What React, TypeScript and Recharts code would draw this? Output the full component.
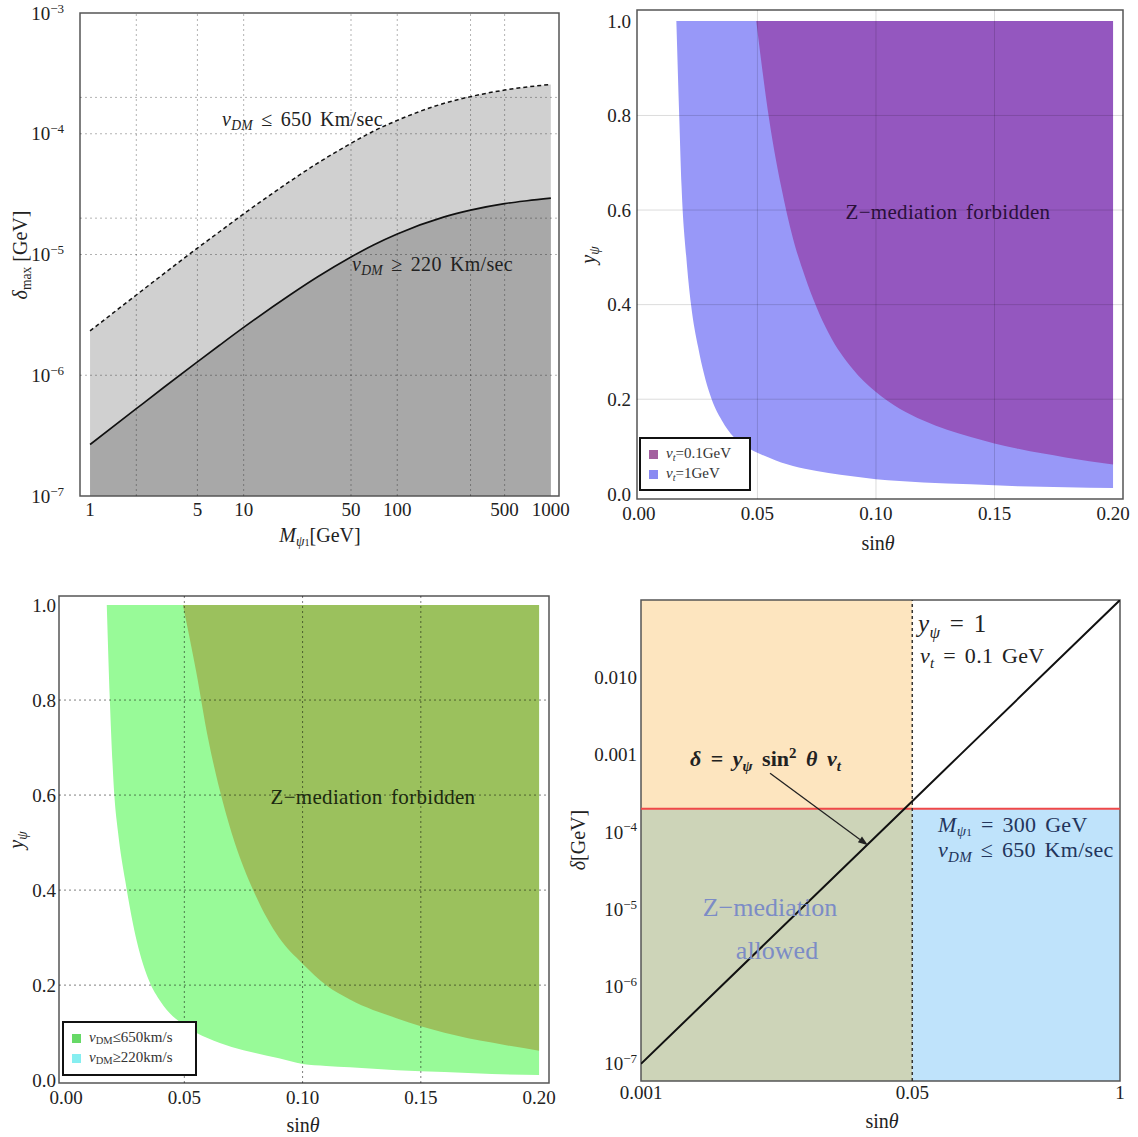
import React from "react";
import { ComposedChart, Area, Line, XAxis, YAxis, ReferenceLine, ReferenceArea } from "recharts";

const FONT = '"Liberation Serif", "Times New Roman", serif';

// ---- top-left: delta_max vs M_psi1 ----
const massGeV = [1, 2, 3, 5, 7, 10, 20, 30, 50, 70, 100, 200, 300, 500, 700, 1000];
const deltaMax650 = [2.33e-6, 4.62e-6, 6.88e-6, 1.13e-5, 1.55e-5, 2.17e-5, 4.03e-5, 5.66e-5, 8.33e-5, 1.05e-4, 1.29e-4, 1.78e-4, 2.03e-4, 2.3e-4, 2.44e-4, 2.56e-4];
const deltaMax220 = [2.67e-7, 5.29e-7, 7.88e-7, 1.29e-6, 1.78e-6, 2.49e-6, 4.62e-6, 6.48e-6, 9.54e-6, 1.2e-5, 1.48e-5, 2.04e-5, 2.33e-5, 2.64e-5, 2.79e-5, 2.93e-5];
const massTicks = [1, 5, 10, 50, 100, 500, 1000];
const deltaTicksA = [1e-7, 1e-6, 1e-5, 1e-4, 1e-3];
const massGrid = [2, 5, 10, 50, 100, 300, 500];
const deltaGridA = [1e-6, 1e-5, 2e-5, 1e-4, 2e-4];

// ---- top-right: y_psi vs sin(theta), v_t = 0.1 / 1 GeV ----
const sinThetaB = [0.0158, 0.017, 0.018, 0.02, 0.022, 0.025, 0.03, 0.035, 0.04, 0.045, 0.0495, 0.055, 0.06, 0.065, 0.07, 0.08, 0.09, 0.1, 0.11, 0.12, 0.14, 0.16, 0.18, 0.2];
const yLowVt1 = [1.0, 0.8, 0.65, 0.5, 0.4, 0.31, 0.21, 0.155, 0.12, 0.1, 0.088, 0.076, 0.066, 0.059, 0.053, 0.044, 0.037, 0.031, 0.027, 0.024, 0.02, 0.016, 0.014, 0.012];
const yLowVt01 = [null, null, null, null, null, null, null, null, null, null, 1.0, 0.79, 0.65, 0.54, 0.46, 0.34, 0.265, 0.215, 0.18, 0.155, 0.12, 0.095, 0.077, 0.062];

// ---- bottom-left: y_psi vs sin(theta), v_DM bounds ----
const sinThetaC = [0.0172, 0.0185, 0.0204, 0.022, 0.025, 0.03, 0.035, 0.04, 0.045, 0.0494, 0.055, 0.06, 0.065, 0.07, 0.08, 0.09, 0.1, 0.11, 0.12, 0.14, 0.16, 0.18, 0.2];
const yLow650 = [1.0, 0.8, 0.6, 0.52, 0.42, 0.29, 0.21, 0.165, 0.135, 0.118, 0.1, 0.088, 0.078, 0.07, 0.057, 0.046, 0.034, 0.03, 0.027, 0.021, 0.017, 0.013, 0.011];
const yLow220 = [null, null, null, null, null, null, null, null, null, 1.0, 0.86, 0.72, 0.61, 0.52, 0.39, 0.3, 0.245, 0.2, 0.17, 0.13, 0.1, 0.079, 0.062];

const linTicksX = [0, 0.05, 0.1, 0.15, 0.2];
const linTicksY = [0, 0.2, 0.4, 0.6, 0.8, 1.0];
const linGridX = [0.05, 0.1, 0.15];
const linGridY = [0.2, 0.4, 0.6, 0.8];

// ---- bottom-right: delta vs sin(theta) ----
const sinThetaD = [0.001, 0.01, 0.05, 0.1, 1];
const deltaLine = [1e-7, 1e-5, 2.5e-4, 1e-3, 0.1];
const deltaTicksD = [1e-7, 1e-6, 1e-5, 1e-4, 1e-3, 1e-2];
const sinTicksD = [0.001, 0.05, 1];
const deltaCut = 2e-4;
const sinCut = 0.05;

const tableA = massGeV.map((m, i) => ({ m, hi: deltaMax650[i], lo: deltaMax220[i] }));
const tableB = sinThetaB.map((s, i) => ({
  s,
  blue: yLowVt1[i] == null ? null : [yLowVt1[i], 1],
  purple: yLowVt01[i] == null ? null : [yLowVt01[i], 1],
}));
const tableC = sinThetaC.map((s, i) => ({
  s,
  light: yLow650[i] == null ? null : [yLow650[i], 1],
  dark: yLow220[i] == null ? null : [yLow220[i], 1],
}));
const tableD = sinThetaD.map((s, i) => ({ s, d: deltaLine[i] }));

const tickStyle = { fontSize: 19, fontFamily: FONT, fill: "#222" };

const PowTick = (props: any) => {
  const { x, y, payload } = props;
  const v = payload.value;
  if (v >= 1e-3 && v < 0.1 && props.decimal) {
    return (
      <text x={x} y={y} dy="0.35em" textAnchor="end" fontFamily={FONT} fontSize={19} fill="#222">
        {v >= 0.005 ? "0.010" : "0.001"}
      </text>
    );
  }
  const e = Math.round(Math.log10(v));
  return (
    <text x={x} y={y} dy="0.35em" textAnchor="end" fontFamily={FONT} fontSize={19} fill="#222">
      10<tspan dy="-0.55em" fontSize={13}>{"\u2212" + Math.abs(e)}</tspan>
    </text>
  );
};

const ArrowShape = (p: any) => {
  const { x1, y1, x2, y2 } = p;
  const a = Math.atan2(y2 - y1, x2 - x1);
  const L = 10;
  const W = 3.5;
  const bx = x2 - L * Math.cos(a);
  const by = y2 - L * Math.sin(a);
  const pts = `${x2},${y2} ${bx - W * Math.sin(a)},${by + W * Math.cos(a)} ${bx + W * Math.sin(a)},${by - W * Math.cos(a)}`;
  return (
    <g>
      <line x1={x1} y1={y1} x2={bx} y2={by} stroke="#222" strokeWidth={1.3} />
      <polygon points={pts} fill="#222" />
    </g>
  );
};

function T({ x, y, size = 19, color = "#222", anchor = "middle", rotate = false, style = {}, children }: any) {
  const tx = anchor === "middle" ? "-50%" : "0";
  return (
    <div
      style={{
        position: "absolute",
        left: x,
        top: y,
        transform: `translate(${tx}, -50%)${rotate ? " rotate(-90deg)" : ""}`,
        fontSize: size,
        color,
        whiteSpace: "nowrap",
        lineHeight: 1,
        fontFamily: FONT,
        ...style,
      }}
    >
      {children}
    </div>
  );
}

const sub = { fontSize: "0.68em", verticalAlign: "-0.3em" };
const sup = { fontSize: "0.68em", verticalAlign: "0.55em" };
const wide = { wordSpacing: "3px", letterSpacing: "0.3px" };

function Place({ left, top, children }: any) {
  return <div style={{ position: "absolute", left, top }}>{children}</div>;
}

function LegendBox({ x, y, w, h, items }: any) {
  return (
    <div
      style={{
        position: "absolute",
        left: x,
        top: y,
        width: w,
        height: h,
        border: "2px solid #111",
        background: "#fff",
        boxSizing: "border-box",
        fontFamily: FONT,
        fontSize: 15,
        color: "#333",
        padding: "5px 0 0 8px",
      }}
    >
      {items.map((it: any, i: number) => (
        <div key={i} style={{ display: "flex", alignItems: "center", height: 20 }}>
          <span style={{ width: 9, height: 9, background: it.color, display: "inline-block", marginRight: 8 }} />
          <span>{it.label}</span>
        </div>
      ))}
    </div>
  );
}

export default function App() {
  const mr = 16;
  // panel boxes (plot areas) in page pixels
  const A = { l: 80, t: 13, w: 479, h: 483, yw: 75, xh: 34, mt: 20 };
  const B = { l: 637, t: 10, w: 486, h: 489, yw: 60, xh: 34, mt: 10 };
  const C = { l: 59, t: 596, w: 490, h: 487, yw: 50, xh: 34, mt: 12 };
  const D = { l: 641, t: 600, w: 479, h: 481, yw: 62, xh: 34, mt: 12 };
  const dims = (p: any) => ({ width: p.yw + p.w + mr, height: p.mt + p.h + p.xh, margin: { top: p.mt, right: mr, left: 0, bottom: 0 } });

  return (
    <div style={{ position: "absolute", left: 0, top: 0, width: 1138, height: 1137, background: "#fff", fontFamily: FONT, overflow: "hidden" }}>
      {/* Panel A */}
      <Place left={A.l - A.yw} top={A.t - A.mt}>
        <ComposedChart {...dims(A)} data={tableA}>
          <XAxis dataKey="m" type="number" scale="log" domain={[0.86, 1130]} allowDataOverflow ticks={massTicks}
            tick={tickStyle} tickLine={false} axisLine={false} tickSize={0} tickMargin={7} height={A.xh} />
          <YAxis type="number" scale="log" domain={[1e-7, 1e-3]} allowDataOverflow ticks={deltaTicksA}
            tick={<PowTick />} tickLine={false} axisLine={false} tickSize={0} tickMargin={16} width={A.yw} />
          <Area dataKey="hi" type="monotone" baseValue={1e-7} fill="#d0d0d0" fillOpacity={1} stroke="none" isAnimationActive={false} />
          <Area dataKey="lo" type="monotone" baseValue={1e-7} fill="#a8a8a8" fillOpacity={1} stroke="none" isAnimationActive={false} />
          {massGrid.map((v) => (
            <ReferenceLine key={"vx" + v} x={v} stroke="rgba(0,0,0,0.3)" strokeDasharray="2 3" />
          ))}
          {deltaGridA.map((v) => (
            <ReferenceLine key={"hy" + v} y={v} stroke="rgba(0,0,0,0.3)" strokeDasharray="2 3" />
          ))}
          <Line dataKey="hi" type="monotone" stroke="#111" strokeWidth={1.5} strokeDasharray="4 3" dot={false} isAnimationActive={false} />
          <Line dataKey="lo" type="monotone" stroke="#111" strokeWidth={1.6} dot={false} isAnimationActive={false} />
          <ReferenceArea x1={0.86} x2={1130} y1={1e-7} y2={1e-3} fill="none" stroke="#555" strokeWidth={1.5} ifOverflow="visible" />
        </ComposedChart>
      </Place>
      <T x={22} y={255} rotate size={20}><i>δ</i><span style={sub}>max</span> [GeV]</T>
      <T x={320} y={537} size={20}><i>M</i><span style={sub}><i>ψ</i><span style={{ fontSize: "0.75em" }}>1</span></span>[GeV]</T>
      <T x={222} y={121} anchor="start" size={20} style={wide}><i>v</i><span style={sub}><i>DM</i></span> ≤ 650 Km/sec</T>
      <T x={352} y={266} anchor="start" size={20} style={wide}><i>v</i><span style={sub}><i>DM</i></span> ≥ 220 Km/sec</T>

      {/* Panel B */}
      <Place left={B.l - B.yw} top={B.t - B.mt}>
        <ComposedChart {...dims(B)} data={tableB}>
          <XAxis dataKey="s" type="number" domain={[-0.0008, 0.2042]} allowDataOverflow ticks={linTicksX}
            tickFormatter={(v: number) => v.toFixed(2)} tick={tickStyle} tickLine={false} axisLine={false} tickSize={0} tickMargin={8} height={B.xh} />
          <YAxis type="number" domain={[-0.011, 1.023]} allowDataOverflow ticks={linTicksY}
            tickFormatter={(v: number) => v.toFixed(1)} tick={tickStyle} tickLine={false} axisLine={false} tickSize={0} tickMargin={6} width={B.yw} />
          <Area dataKey="blue" type="monotone" fill="#9898f8" fillOpacity={1} stroke="none" isAnimationActive={false} />
          <Area dataKey="purple" type="monotone" fill="#9457bf" fillOpacity={1} stroke="none" isAnimationActive={false} />
          {linGridX.map((v) => (
            <ReferenceLine key={"bx" + v} x={v} stroke="rgba(0,0,0,0.14)" />
          ))}
          {linGridY.map((v) => (
            <ReferenceLine key={"by" + v} y={v} stroke="rgba(0,0,0,0.14)" />
          ))}
          <ReferenceArea x1={-0.0008} x2={0.2042} y1={-0.011} y2={1.023} fill="none" stroke="#555" strokeWidth={1.5} ifOverflow="visible" />
        </ComposedChart>
      </Place>
      <T x={590} y={255} rotate size={20}><i>y</i><span style={sub}><i>ψ</i></span></T>
      <T x={878} y={543} size={20}>sin<i>θ</i></T>
      <T x={948} y={212} size={21} color="#2a0f3a" style={wide}>Z−mediation forbidden</T>
      <LegendBox x={639} y={437} w={112} h={54}
        items={[
          { color: "#a3609f", label: <span><i>v</i><span style={sub}><i>t</i></span>=0.1GeV</span> },
          { color: "#8a8af2", label: <span><i>v</i><span style={sub}><i>t</i></span>=1GeV</span> },
        ]} />

      {/* Panel C */}
      <Place left={C.l - C.yw} top={C.t - C.mt}>
        <ComposedChart {...dims(C)} data={tableC}>
          <XAxis dataKey="s" type="number" domain={[-0.003, 0.2042]} allowDataOverflow ticks={linTicksX}
            tickFormatter={(v: number) => v.toFixed(2)} tick={tickStyle} tickLine={false} axisLine={false} tickSize={0} tickMargin={8} height={C.xh} />
          <YAxis type="number" domain={[-0.006, 1.019]} allowDataOverflow ticks={linTicksY}
            tickFormatter={(v: number) => v.toFixed(1)} tick={tickStyle} tickLine={false} axisLine={false} tickSize={0} tickMargin={3} width={C.yw} />
          <Area dataKey="light" type="monotone" fill="#98fa98" fillOpacity={1} stroke="none" isAnimationActive={false} />
          <Area dataKey="dark" type="monotone" fill="#9bc15d" fillOpacity={1} stroke="none" isAnimationActive={false} />
          {linGridX.map((v) => (
            <ReferenceLine key={"cx" + v} x={v} stroke="rgba(0,0,0,0.5)" strokeDasharray="2 3" />
          ))}
          {linGridY.map((v) => (
            <ReferenceLine key={"cy" + v} y={v} stroke="rgba(0,0,0,0.5)" strokeDasharray="2 3" />
          ))}
          <ReferenceArea x1={-0.003} x2={0.2042} y1={-0.006} y2={1.019} fill="none" stroke="#555" strokeWidth={1.5} ifOverflow="visible" />
        </ComposedChart>
      </Place>
      <T x={18} y={840} rotate size={20}><i>y</i><span style={sub}><i>ψ</i></span></T>
      <T x={303} y={1125} size={20}>sin<i>θ</i></T>
      <T x={373} y={797} size={21} color="#1b2a10" style={wide}>Z−mediation forbidden</T>
      <LegendBox x={62} y={1021} w={135} h={55}
        items={[
          { color: "#66d966", label: <span><i>v</i><span style={{ fontSize: "0.7em", verticalAlign: "-0.2em" }}>DM</span>≤650km/s</span> },
          { color: "#86eef0", label: <span><i>v</i><span style={{ fontSize: "0.7em", verticalAlign: "-0.2em" }}>DM</span>≥220km/s</span> },
        ]} />

      {/* Panel D */}
      <Place left={D.l - D.yw} top={D.t - D.mt}>
        <ComposedChart {...dims(D)} data={tableD}>
          <XAxis dataKey="s" type="number" scale="log" domain={[0.001, 1]} allowDataOverflow ticks={sinTicksD}
            tickFormatter={(v: number) => String(v)} tick={tickStyle} tickLine={false} axisLine={false} tickSize={0} tickMargin={5} height={D.xh} />
          <YAxis type="number" scale="log" domain={[6e-8, 0.1]} allowDataOverflow ticks={deltaTicksD}
            tick={<PowTick decimal />} tickLine={false} axisLine={false} tickSize={0} tickMargin={4} width={D.yw} />
          <ReferenceArea x1={0.001} x2={sinCut} y1={deltaCut} y2={0.1} fill="#fde5bf" fillOpacity={1} stroke="none" />
          <ReferenceArea x1={0.001} x2={sinCut} y1={6e-8} y2={deltaCut} fill="#cdd4b8" fillOpacity={1} stroke="none" />
          <ReferenceArea x1={sinCut} x2={1} y1={6e-8} y2={deltaCut} fill="#bfe3fb" fillOpacity={1} stroke="none" />
          <ReferenceLine y={deltaCut} stroke="#f04848" strokeWidth={2} />
          <ReferenceLine x={sinCut} stroke="#333" strokeWidth={1.5} strokeDasharray="3 3" />
          <Line dataKey="d" type="linear" stroke="#111" strokeWidth={2} dot={false} isAnimationActive={false} />
          <ReferenceLine segment={[{ x: 0.00643, y: 5.75e-4 }, { x: 0.0264, y: 6.7e-5 }]} shape={ArrowShape} />
          <ReferenceArea x1={0.001} x2={1} y1={6e-8} y2={0.1} fill="none" stroke="#555" strokeWidth={1.5} ifOverflow="visible" />
        </ComposedChart>
      </Place>
      <T x={578} y={840} rotate size={20}><i>δ</i>[GeV]</T>
      <T x={882} y={1121} size={20}>sin<i>θ</i></T>
      <T x={918} y={626} anchor="start" size={25} style={wide}><i>y</i><span style={sub}><i>ψ</i></span> = 1</T>
      <T x={920} y={658} anchor="start" size={22} style={wide}><i>v</i><span style={sub}><i>t</i></span> = 0.1 GeV</T>
      <T x={690} y={760} anchor="start" size={22} style={{ fontWeight: "bold", wordSpacing: "4px" }}>
        <i>δ</i> = <i>y</i><span style={sub}><i>ψ</i></span> sin<span style={sup}>2</span> <i>θ</i> <i>v</i><span style={sub}><i>t</i></span>
      </T>
      <T x={938} y={827} anchor="start" size={22} color="#23355c" style={wide}><i>M</i><span style={sub}><i>ψ</i><span style={{ fontSize: "0.75em" }}>1</span></span> = 300 GeV</T>
      <T x={938} y={852} anchor="start" size={22} color="#23355c" style={wide}><i>v</i><span style={sub}><i>DM</i></span> ≤ 650 Km/sec</T>
      <T x={770} y={908} size={26} color="#7c8cc6">Z−mediation</T>
      <T x={777} y={951} size={26} color="#7c8cc6">allowed</T>
    </div>
  );
}
